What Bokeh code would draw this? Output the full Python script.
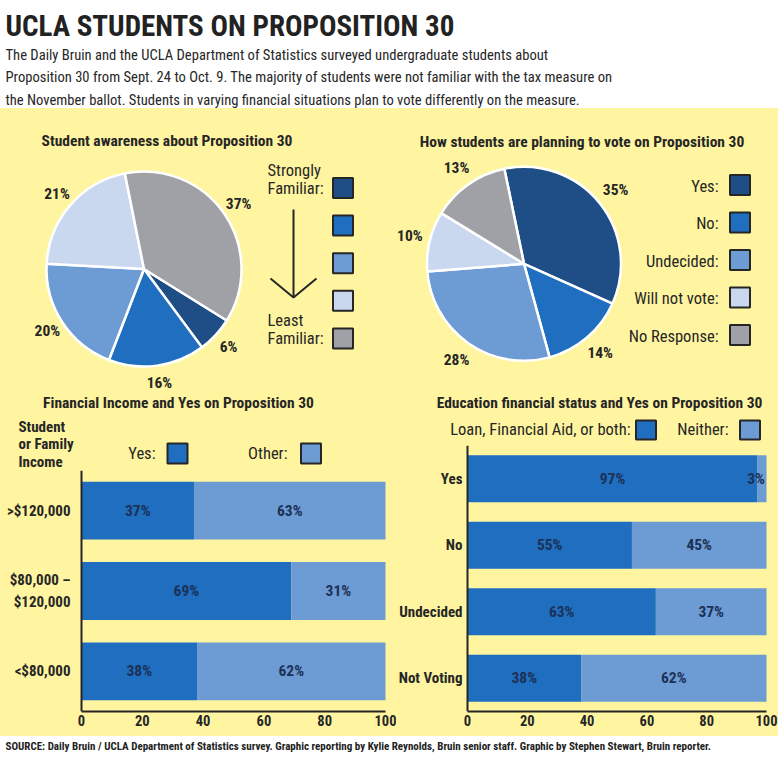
import numpy as np
from bokeh.plotting import figure
from bokeh.models import Range1d, FactorRange, FixedTicker, ColumnDataSource, Span
from bokeh.layouts import column, row
from bokeh.embed import file_html
from bokeh.resources import INLINE
from bokeh.core.properties import value

# ---------------- data ----------------
TITLE = "UCLA STUDENTS ON PROPOSITION 30"
SUBTITLE = [
    "The Daily Bruin and the UCLA  Department of Statistics surveyed undergraduate students about",
    "Proposition 30 from Sept. 24 to Oct. 9. The majority of students were not familiar with the tax measure on",
    "the November ballot. Students in varying financial situations plan to vote differently on the measure.",
]
FOOTER = ("SOURCE: Daily Bruin / UCLA Department of Statistics survey.  Graphic reporting by Kylie Reynolds, "
          "Bruin senior staff.  Graphic by Stephen Stewart, Bruin reporter.")

AWARE_TITLE = "Student awareness about Proposition 30"
AWARE_LEVELS = ["Strongly familiar", "Familiar", "Somewhat familiar", "Slightly familiar", "Least familiar"]
AWARE_PCT = [6, 16, 20, 21, 37]
AWARE_TOP_LABEL = ["Strongly", "Familiar:"]
AWARE_BOTTOM_LABEL = ["Least", "Familiar:"]

VOTE_TITLE = "How students are planning to vote on Proposition 30"
VOTE_LABELS = ["Yes:", "No:", "Undecided:", "Will not vote:", "No Response:"]
VOTE_PCT = [35, 14, 28, 10, 13]

INCOME_TITLE = "Financial Income and Yes on Proposition 30"
INCOME_AXIS_LABEL = ["Student", "or Family", "Income"]
INCOME_CATS = [">$120,000", "$80,000 \u2013\n$120,000", "<$80,000"]
INCOME_YES = [37, 69, 38]
INCOME_OTHER = [63, 31, 62]
INCOME_LEGEND = ["Yes:", "Other:"]

AID_TITLE = "Education financial status and Yes on Proposition 30"
AID_CATS = ["Yes", "No", "Undecided", "Not Voting"]
AID_LOAN = [97, 55, 63, 38]
AID_NEITHER = [3, 45, 37, 62]
AID_LEGEND = ["Loan, Financial Aid, or both:", "Neither:"]

X_TICKS = [0, 20, 40, 60, 80, 100]

# ---------------- style ----------------
DARK, MED, LIGHT, VLIGHT, GREY = "#1f4e87", "#1f6ebf", "#6d9bd4", "#c9d8ef", "#a0a1a6"
PIE_COLORS = [DARK, MED, LIGHT, VLIGHT, GREY]
YELLOW = "#fff5a0"
INK = "#262626"
BAR_INK = "#1c3157"
FONT = "Roboto Condensed, DejaVu Sans Condensed, Roboto"
YBG = {"background-color": YELLOW}

S = 1.0


def P(v):
    return int(round(v * S))


def fs(v):
    return f"{v * S:.1f}px"


def canvas(x0, x1, y0, y1, bg):
    p = figure(width=P(x1) - P(x0), height=P(y1) - P(y0),
               x_range=Range1d(x0, x1), y_range=Range1d(-y1, -y0),
               x_axis_type=None, y_axis_type=None, output_backend="svg",
               toolbar_location=None, min_border=0, outline_line_color=None,
               background_fill_color=bg, border_fill_color=bg)
    return p


def txt(p, x, y, s, size, bold=False, align="left", color=INK):
    p.text(x=[x], y=[-y], text=[s], text_font=value(FONT), text_font_size=fs(size),
           text_font_style="bold" if bold else "normal", text_align=align,
           text_baseline="middle", text_color=color)


def swatch(p, x, y, color, w=20, h=20):
    p.rect(x=[x], y=[-y], width=w, height=h, fill_color=color, line_color=INK, line_width=2)


def pie(p, cx, cy, r, pcts, colors, start_deg, lab_k):
    v = np.array(pcts, float)
    cum = np.concatenate([[0.0], np.cumsum(v)]) / v.sum()
    a0 = np.deg2rad(start_deg)
    ends = a0 - cum[:-1] * 2 * np.pi
    starts = a0 - cum[1:] * 2 * np.pi
    mids = (starts + ends) / 2
    lr = lab_k * r
    src = ColumnDataSource(dict(start=starts, end=ends, color=colors,
                                lx=cx + lr * np.cos(mids), ly=-cy + lr * np.sin(mids),
                                lbl=[f"{x}%" for x in pcts]))
    p.wedge(x=cx, y=-cy, radius=r, start_angle="start", end_angle="end",
            fill_color="color", line_color="white", line_width=2.5, source=src)
    p.text(x="lx", y="ly", text="lbl", source=src, text_font=value(FONT),
           text_font_size=fs(15.5), text_font_style="bold", text_align="center",
           text_baseline="middle", text_color=INK)


def bars(x0, x1, y0, y1, fl, fr, fb, cats, a, b, colors, bar_h, standoff):
    W = P(x1) - P(x0)
    H = P(y1) - P(y0)
    k = 100.0 / (fr - fl)
    p = figure(width=W, height=H,
               x_range=Range1d(-(fl - x0) * k, 100 + (x1 - fr) * k),
               y_range=FactorRange(factors=list(reversed(cats))),
               y_axis_type=None,
               min_border_left=0, min_border_right=0,
               min_border_top=0, min_border_bottom=P(y1) - P(fb),
               output_backend="svg", toolbar_location=None, outline_line_color=None,
               background_fill_color=YELLOW, border_fill_color=YELLOW)
    a = np.array(a, float)
    b = np.array(b, float)
    small = b < 8
    src = ColumnDataSource(dict(cat=cats, a=a, b=b,
                                ax=a / 2, bx=np.where(small, 99.5, a + b / 2),
                                balign=np.where(small, "right", "center").tolist(),
                                al=[f"{int(v)}%" for v in a], bl=[f"{int(v)}%" for v in b]))
    p.hbar_stack(["a", "b"], y="cat", height=bar_h, color=colors, line_color=None, source=src)
    common = dict(text_font=value(FONT), text_font_size=fs(15.5), text_font_style="bold",
                  text_baseline="middle", text_color=BAR_INK, source=src)
    p.text(x="ax", y="cat", text="al", text_align="center", **common)
    p.text(x="bx", y="cat", text="bl", text_align="balign", **common)
    # category labels placed through the categorical scale, left of the value axis
    p.text(x=0, y="cat", text="cat", source=src, x_offset=-P(standoff),
           text_font=value(FONT), text_font_size=fs(15), text_font_style="bold",
           text_align="right", text_baseline="middle", text_color=INK)
    p.add_layout(Span(location=0, dimension="height", line_color=INK, line_width=2))
    p.grid.visible = False
    ax = p.xaxis[0]
    ax.bounds = (0, 100)
    ax.ticker = FixedTicker(ticks=X_TICKS)
    ax.axis_line_width = 2
    ax.axis_line_color = INK
    ax.major_tick_line_color = None
    ax.minor_tick_line_color = None
    ax.major_tick_out = 0
    ax.major_tick_in = 0
    ax.major_label_text_font = FONT
    ax.major_label_text_font_style = "bold"
    ax.major_label_text_color = INK
    ax.major_label_text_font_size = fs(14.5)
    ax.major_label_standoff = 3
    return p


# ---------------- header ----------------
head = canvas(0, 778, 0, 108, "white")
txt(head, 5, 25, TITLE, 29, bold=True, color="#222222")
for i, line in enumerate(SUBTITLE):
    txt(head, 5, 54 + i * 22.5, line, 14.6)

# ---------------- pies ----------------
pies = canvas(0, 778, 108, 393, YELLOW)
txt(pies, 166.5, 140, AWARE_TITLE, 15.5, bold=True, align="center")
pie(pies, 143.5, 268.5, 97.5, AWARE_PCT, PIE_COLORS, -31.9, 1.18)
for i, lev in enumerate(AWARE_LEVELS):
    swatch(pies, 342.5, 187.5 + i * 37.6, PIE_COLORS[i])
txt(pies, 267, 187.5 - 18, AWARE_TOP_LABEL[0], 16.5)
txt(pies, 267, 187.5, AWARE_TOP_LABEL[1], 16.5)
txt(pies, 267, 187.5 + 4 * 37.6 - 18, AWARE_BOTTOM_LABEL[0], 16.5)
txt(pies, 267, 187.5 + 4 * 37.6, AWARE_BOTTOM_LABEL[1], 16.5)
pies.line(x=[293, 293], y=[-209, -297], line_color=INK, line_width=2)
pies.line(x=[270, 293, 316], y=[-278, -297, -278], line_color=INK, line_width=2)

txt(pies, 581.5, 141, VOTE_TITLE, 15.5, bold=True, align="center")
pie(pies, 523.5, 263.3, 97, VOTE_PCT, PIE_COLORS, 101.7, 1.21)
for i, lab in enumerate(VOTE_LABELS):
    swatch(pies, 739.5, 184.5 + i * 37.5, PIE_COLORS[i])
    txt(pies, 718, 185.5 + i * 37.5, lab, 16.5, align="right")

# ---------------- bar chart heads ----------------
h1 = canvas(0, 396, 393, 470, YELLOW)
txt(h1, 178, 402, INCOME_TITLE, 15.5, bold=True, align="center")
for i, line in enumerate(INCOME_AXIS_LABEL):
    txt(h1, 18, 426 + i * 17.5, line, 15, bold=True)
txt(h1, 155, 453, INCOME_LEGEND[0], 16.5, align="right")
swatch(h1, 177, 453, MED)
txt(h1, 287, 453, INCOME_LEGEND[1], 16.5, align="right")
swatch(h1, 310.5, 453, LIGHT)

h2 = canvas(396, 778, 393, 445, YELLOW)
txt(h2, 599, 402, AID_TITLE, 15.5, bold=True, align="center")
txt(h2, 630, 429, AID_LEGEND[0], 16.5, align="right")
swatch(h2, 645.5, 429.5, MED, h=19)
txt(h2, 728, 429, AID_LEGEND[1], 16.5, align="right")
swatch(h2, 749.5, 429.5, LIGHT, h=19)

# ---------------- bar charts ----------------
b1 = bars(0, 396, 470, 736, 81, 385, 711, INCOME_CATS, INCOME_YES, INCOME_OTHER,
          [MED, LIGHT], 0.72, 11)
b2 = bars(396, 778, 445, 736, 467, 766, 711, AID_CATS, AID_LOAN, AID_NEITHER,
          [MED, LIGHT], 0.71, 5)

# ---------------- footer ----------------
foot = canvas(0, 778, 736, 761, "white")
txt(foot, 5, 746, FOOTER, 11, bold=True, color="#222222")

body = column(pies,
              row(column(h1, b1, styles=YBG), column(h2, b2, styles=YBG), styles=YBG),
              styles=YBG)
layout = column(head, body, foot)
open("out.html", "w", encoding="utf-8").write(file_html(layout, INLINE))
